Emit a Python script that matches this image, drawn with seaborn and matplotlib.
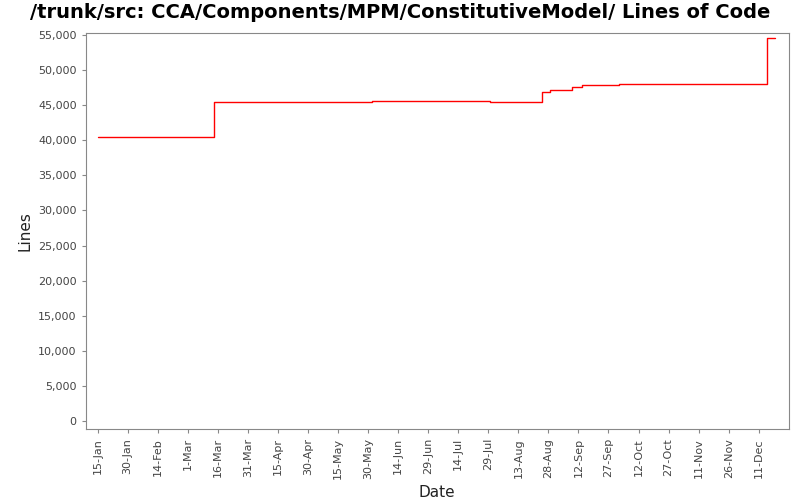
import matplotlib
matplotlib.use("Agg")
import matplotlib.pyplot as plt
import matplotlib.dates as mdates
import matplotlib.ticker as mticker
import pandas as pd
import seaborn as sns

dates = ["2007-01-15", "2007-03-14", "2007-06-01", "2007-07-30", "2007-08-04",
         "2007-08-25", "2007-08-29", "2007-09-09", "2007-09-14", "2007-10-02",
         "2007-12-15", "2007-12-19"]
lines = [40450, 45450, 45600, 45450, 45480, 46950, 47100, 47550, 47850, 48000,
         54550, 54550]

df = pd.DataFrame({"date": pd.to_datetime(dates), "lines": lines})

sns.set_style("white")
fig, ax = plt.subplots(figsize=(8, 5), dpi=100)
fig.subplots_adjust(left=0.107, right=0.986, top=0.934, bottom=0.142)

sns.lineplot(x="date", y="lines", data=df, ax=ax, color="red",
             linewidth=1, drawstyle="steps-post")

ax.set_xlim(pd.Timestamp("2007-01-09"), pd.Timestamp("2007-12-26"))
ax.set_ylim(-1140, 55290)
ticks = pd.date_range("2007-01-15", "2007-12-11", freq="15D")
ax.set_xticks(ticks)
ax.xaxis.set_major_formatter(mdates.DateFormatter("%-d-%b"))
ax.yaxis.set_major_locator(mticker.MultipleLocator(5000))
ax.yaxis.set_major_formatter(mticker.FuncFormatter(lambda v, p: f"{int(v):,}"))
plt.setp(ax.get_xticklabels(), rotation=90, fontsize=8, color="#444444")
plt.setp(ax.get_yticklabels(), fontsize=8, color="#444444")
ax.tick_params(axis="both", length=3, color="#888888", bottom=True, left=True)
for s in ax.spines.values():
    s.set_color("#888888")
    s.set_linewidth(0.8)

ax.set_xlabel("Date", fontsize=11, color="#222222")
ax.set_ylabel("Lines", fontsize=11, color="#222222")
fig.suptitle("/trunk/src: CCA/Components/MPM/ConstitutiveModel/ Lines of Code",
             fontsize=14, fontweight="bold", color="black", y=0.995)

plt.savefig("out.png")
plt.close()
